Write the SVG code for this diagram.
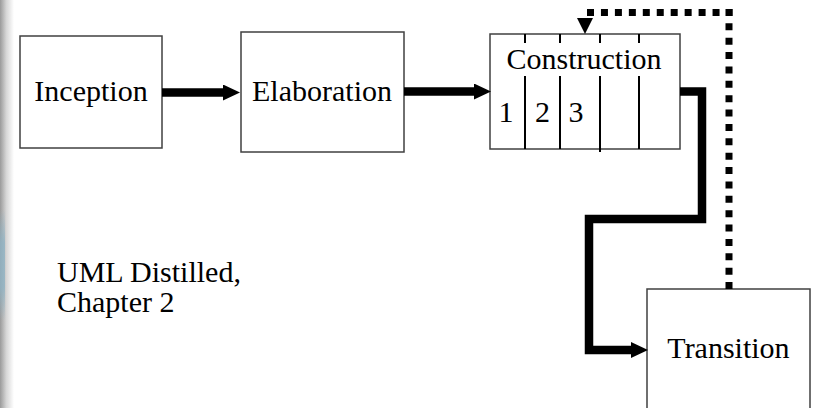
<svg xmlns="http://www.w3.org/2000/svg" width="815" height="408" viewBox="0 0 815 408">
  <defs>
    <linearGradient id="edge" x1="0" y1="0" x2="1" y2="0">
      <stop offset="0" stop-color="#9a9a9a"/>
      <stop offset="0.45" stop-color="#d6d6d6"/>
      <stop offset="1" stop-color="#ffffff"/>
    </linearGradient>
    <linearGradient id="tint" x1="0" y1="0" x2="0" y2="1">
      <stop offset="0" stop-color="#8fb3c4" stop-opacity="0"/>
      <stop offset="0.3" stop-color="#8fb3c4" stop-opacity="0.8"/>
      <stop offset="0.7" stop-color="#8fb3c4" stop-opacity="0.8"/>
      <stop offset="1" stop-color="#8fb3c4" stop-opacity="0"/>
    </linearGradient>
    <marker id="head" markerUnits="userSpaceOnUse" markerWidth="18" markerHeight="18" refX="0" refY="8" orient="auto">
      <path d="M0,0 L17,8 L0,16 z" fill="#000"/>
    </marker>
  </defs>
  <style>
    .box { fill: #fff; stroke: #404040; stroke-width: 1.5; }
    .lbl { font-family: "Liberation Serif", "Times New Roman", serif; font-size: 30px; fill: #000; }
    .thick { fill: none; stroke: #000; stroke-width: 8.5; stroke-linejoin: miter; }
    .dots { fill: none; stroke: #000; stroke-width: 7; }
    .div { stroke: #000; stroke-width: 2; }
  </style>
  <rect x="0" y="0" width="815" height="408" fill="#fff"/>
  <rect x="0" y="0" width="14" height="408" fill="url(#edge)"/>
  <rect x="0" y="210" width="5" height="110" fill="url(#tint)"/>

  <g id="inception">
    <rect class="box" x="20" y="36" width="142" height="112"/>
    <text class="lbl" x="91" y="101" text-anchor="middle">Inception</text>
  </g>
  <g id="elaboration">
    <rect class="box" x="241" y="32" width="163" height="120"/>
    <text class="lbl" x="322" y="101" text-anchor="middle">Elaboration</text>
  </g>
  <g id="construction">
    <rect class="box" x="490" y="34" width="190" height="115"/>
    <text class="lbl" x="584" y="69" text-anchor="middle">Construction</text>
    <path class="div" d="M525,34 V43 M525,76 V149 M560,34 V43 M560,76 V149 M600,34 V43 M600,76 V152 M639,34 V43 M639,76 V149"/>
    <text class="lbl" x="498.5" y="122">1</text>
    <text class="lbl" x="535" y="122">2</text>
    <text class="lbl" x="568.5" y="122">3</text>
  </g>
  <g id="transition">
    <rect class="box" x="647" y="289" width="163" height="130"/>
    <text class="lbl" x="728.5" y="358" text-anchor="middle">Transition</text>
  </g>
  <g id="note">
    <text class="lbl" x="57" y="282">UML Distilled,</text>
    <text class="lbl" x="57" y="312">Chapter 2</text>
  </g>

  <g id="connectors">
    <path class="thick" d="M162,92.5 H223" marker-end="url(#head)"/>
    <path class="thick" d="M404,91.5 H474" marker-end="url(#head)"/>
    <path class="thick" d="M680,91.5 H702 V219 H589 V350 H631" marker-end="url(#head)"/>
    <path class="dots" d="M587,12.5 H732.5" stroke-dasharray="7 6.95"/>
    <path class="dots" d="M729,9 V289" stroke-dasharray="7 7.37"/>
    <polygon points="577,18 593,18 585,34" fill="#000"/>
  </g>
</svg>
